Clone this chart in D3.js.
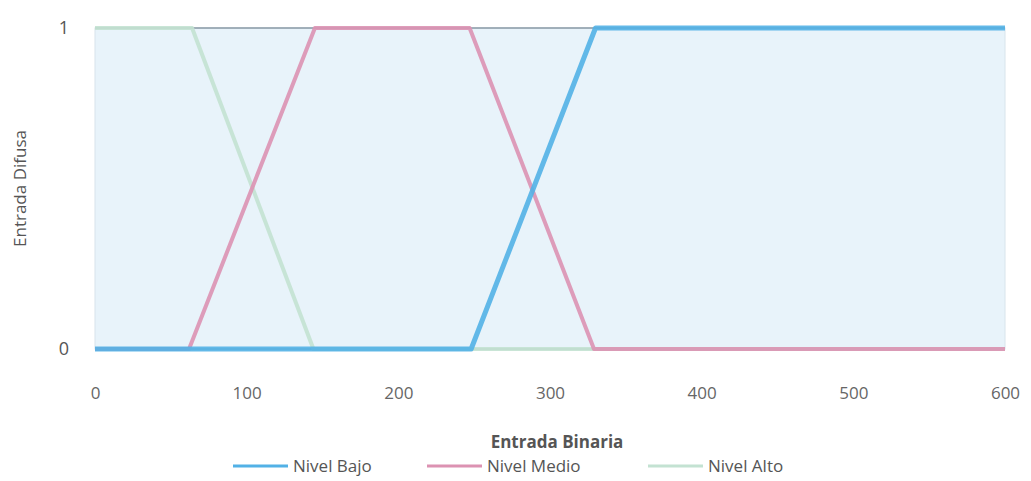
<!DOCTYPE html>
<html>
<head>
<meta charset="utf-8">
<script src="https://cdn.jsdelivr.net/npm/d3@7"></script>
<style>
  body { margin: 0; background: #ffffff; }
  text { font-family: "Open Sans", sans-serif; }
</style>
</head>
<body>
<div id="chart"></div>
<script>
// Data
var bajoX = [0, 248, 330, 600],
    bajoY = [0, 0, 1, 1];
var medioX = [0, 62, 145, 247, 329, 600],
    medioY = [0, 0, 1, 1, 0, 0];
var altoX = [0, 64, 144, 600],
    altoY = [1, 1, 0, 0];
var xTicks = [0, 100, 200, 300, 400, 500, 600];
var yTicks = [0, 1];
var seriesNames = ["Nivel Bajo", "Nivel Medio", "Nivel Alto"];

// Dimensions and margins
var margin = {top: 28, right: 26, bottom: 132, left: 95},
    width = 1031 - margin.left - margin.right,
    height = 481 - margin.top - margin.bottom;

var svg = d3.select("#chart")
    .append("svg")
    .attr("width", 1031)
    .attr("height", 481);

var g = svg.append("g")
    .attr("transform", "translate(" + margin.left + "," + margin.top + ")");

var x = d3.scaleLinear().domain([0, 600]).range([0, width]);
var y = d3.scaleLinear().domain([0, 1]).range([height, 0]);

// Plot background
g.append("rect")
    .attr("x", 0)
    .attr("y", 0)
    .attr("width", width)
    .attr("height", height)
    .attr("fill", "#e8f3fa")
    .attr("stroke", "#d8e4ec");

// Top and bottom lines
g.append("line")
    .attr("x1", 0).attr("x2", width)
    .attr("y1", y(1)).attr("y2", y(1))
    .attr("stroke", "#8a9aa6").attr("stroke-width", 1.5);
g.append("line")
    .attr("x1", 0).attr("x2", width)
    .attr("y1", y(0)).attr("y2", y(0))
    .attr("stroke", "#9aa7b0").attr("stroke-width", 1.5);

// Axes
var xAxis = g.append("g")
    .attr("transform", "translate(0," + height + ")")
    .call(d3.axisBottom(x).tickValues(xTicks).tickSize(0).tickPadding(38));
xAxis.select(".domain").remove();
xAxis.selectAll("text")
    .attr("fill", "#666")
    .style("font-size", "17px");

var yAxis = g.append("g")
    .call(d3.axisLeft(y).tickValues(yTicks).tickFormat(d3.format("d")).tickSize(0).tickPadding(26));
yAxis.select(".domain").remove();
yAxis.selectAll("text")
    .attr("fill", "#555")
    .style("font-size", "18px");

// Lines
var line = d3.line()
    .x(function (d) { return x(d[0]); })
    .y(function (d) { return y(d[1]); });

var series = [
    {name: seriesNames[2], xs: altoX, ys: altoY, color: "#c3e2d2", w: 4},
    {name: seriesNames[1], xs: medioX, ys: medioY, color: "#dc92b2", w: 4},
    {name: seriesNames[0], xs: bajoX, ys: bajoY, color: "#52b1e6", w: 5}
];

series.forEach(function (s) {
    g.append("path")
        .datum(d3.zip(s.xs, s.ys))
        .attr("fill", "none")
        .attr("stroke", s.color)
        .attr("stroke-width", s.w)
        .attr("stroke-opacity", 0.9)
        .attr("stroke-linejoin", "round")
        .attr("d", line);
});

// Axis titles
svg.append("text")
    .attr("transform", "translate(26," + (margin.top + height / 2) + ") rotate(-90)")
    .attr("text-anchor", "middle")
    .attr("fill", "#555")
    .style("font-size", "17px")
    .text("Entrada Difusa");

svg.append("text")
    .attr("x", 557)
    .attr("y", 448)
    .attr("text-anchor", "middle")
    .attr("fill", "#555")
    .style("font-size", "17px")
    .style("font-weight", "bold")
    .text("Entrada Binaria");

// Legend
var legendItems = [
    {name: seriesNames[0], color: "#52b1e6", x: 233},
    {name: seriesNames[1], color: "#dc92b2", x: 427},
    {name: seriesNames[2], color: "#c3e2d2", x: 648}
];
var legend = svg.selectAll("g.legend")
    .data(legendItems)
    .enter()
    .append("g")
    .classed("legend", true)
    .attr("transform", function (d) { return "translate(" + d.x + ",466)"; });

legend.append("line")
    .attr("x1", 0).attr("x2", 55)
    .attr("y1", 0).attr("y2", 0)
    .attr("stroke", function (d) { return d.color; })
    .attr("stroke-width", 3);

legend.append("text")
    .attr("x", 60)
    .attr("y", 6)
    .attr("fill", "#555")
    .style("font-size", "17px")
    .text(function (d) { return d.name; });
</script>
</body>
</html>
